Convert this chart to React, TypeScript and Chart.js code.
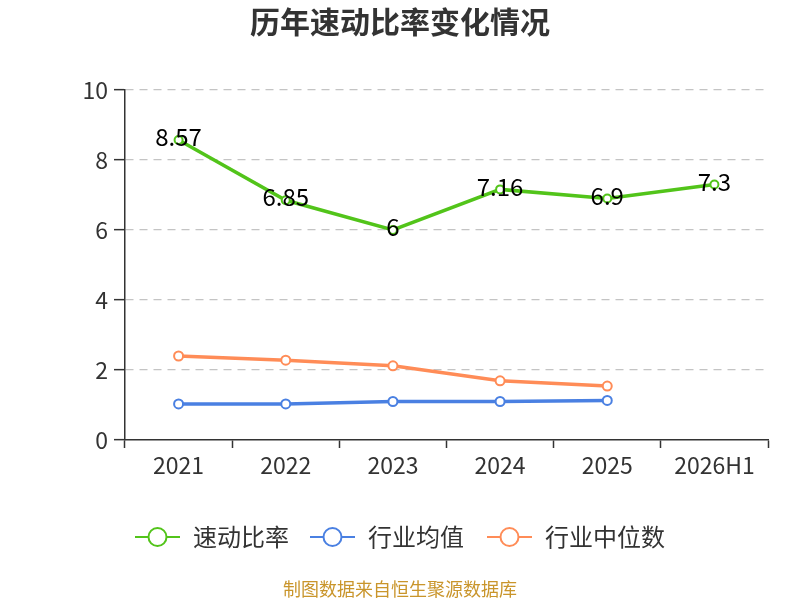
import React, { useEffect, useRef } from "react";
import { Chart, registerables } from "chart.js";

Chart.register(...registerables);

const categories = ["2021", "2022", "2023", "2024", "2025", "2026H1"];
const quickRatio = [8.57, 6.85, 6.0, 7.16, 6.9, 7.3];
const industryAvg = [1.03, 1.03, 1.1, 1.1, 1.13, null];
const industryMedian = [2.4, 2.28, 2.12, 1.69, 1.54, null];
const quickRatioLabels = ["8.57", "6.85", "6", "7.16", "6.9", "7.3"];
const seriesNames = ["速动比率", "行业均值", "行业中位数"];
const yTicks = [0, 2, 4, 6, 8, 10];

const COLORS = ["#52c41a", "#4a80e2", "#ff8c57"];
const FONT = "'Noto Sans CJK SC', 'Noto Sans', sans-serif";

const labelPlugin = {
  id: "valueLabels",
  afterDatasetsDraw(chart: any) {
    const ctx = chart.ctx;
    const meta = chart.getDatasetMeta(0);
    ctx.save();
    ctx.font = `24px ${FONT}`;
    ctx.fillStyle = "#000";
    ctx.textAlign = "center";
    ctx.textBaseline = "middle";
    meta.data.forEach((pt: any, i: number) => {
      ctx.fillText(quickRatioLabels[i], pt.x, pt.y - 3);
    });
    ctx.restore();
  },
};

const legendPlugin = {
  id: "customLegend",
  afterDraw(chart: any) {
    const ctx = chart.ctx;
    ctx.save();
    const cy = 537;
    const starts = [135, 310, 487];
    ctx.font = `24px ${FONT}`;
    ctx.textBaseline = "middle";
    ctx.textAlign = "left";
    seriesNames.forEach((name, i) => {
      const x0 = starts[i];
      ctx.strokeStyle = COLORS[i];
      ctx.lineWidth = 2;
      ctx.beginPath();
      ctx.moveTo(x0, cy);
      ctx.lineTo(x0 + 45, cy);
      ctx.stroke();
      ctx.beginPath();
      ctx.arc(x0 + 22.5, cy, 9, 0, Math.PI * 2);
      ctx.fillStyle = "#fff";
      ctx.fill();
      ctx.lineWidth = 2;
      ctx.stroke();
      ctx.fillStyle = "#333";
      ctx.fillText(name, x0 + 58, cy);
    });
    ctx.font = `18px ${FONT}`;
    ctx.fillStyle = "#c9952b";
    ctx.textAlign = "center";
    ctx.fillText("制图数据来自恒生聚源数据库", 400, 589);
    ctx.font = `bold 30px ${FONT}`;
    ctx.fillStyle = "#333";
    ctx.fillText("历年速动比率变化情况", 400, 22);
    ctx.restore();
  },
};

export default function App() {
  const ref = useRef<HTMLCanvasElement | null>(null);
  useEffect(() => {
    document.body.style.margin = "0";
    if (!ref.current) return;
    const mk = (label: string, data: any[], color: string, r: number) => ({
      label,
      data,
      borderColor: color,
      backgroundColor: "#fff",
      borderWidth: 3.5,
      pointRadius: r,
      pointBorderWidth: 2,
      pointBackgroundColor: "#fff",
      pointBorderColor: color,
      tension: 0,
      spanGaps: false,
    });
    const chart = new Chart(ref.current, {
      type: "line",
      data: {
        labels: categories,
        datasets: [
          mk(seriesNames[0], quickRatio, COLORS[0], 4),
          mk(seriesNames[1], industryAvg, COLORS[1], 4.5),
          mk(seriesNames[2], industryMedian, COLORS[2], 4.5),
        ],
      },
      options: {
        animation: false,
        responsive: false,
        maintainAspectRatio: false,
        layout: { padding: { top: 90, right: 32, left: 0, bottom: 0 } },
        plugins: {
          legend: { display: false },
          title: { display: false },
          tooltip: { enabled: false },
        },
        scales: {
          x: {
            offset: true,
            grid: {
              offset: true,
              drawOnChartArea: false,
              drawTicks: true,
              tickLength: 8,
              tickColor: "#333",
              tickWidth: 1.5,
            },
            border: { display: true, color: "#333", width: 1.5 },
            ticks: {
              color: "#333",
              font: { size: 23, family: FONT },
              padding: 3,
              maxRotation: 0,
              autoSkip: false,
            },
            afterFit(scale: any) {
              scale.height = 160;
            },
          },
          y: {
            min: 0,
            max: 10,
            afterBuildTicks(scale: any) {
              scale.ticks = yTicks.map((v) => ({ value: v }));
            },
            grid: {
              color: (c: any) => (c.tick && c.tick.value === 0 ? "rgba(0,0,0,0)" : "#c4c4c4"),
              lineWidth: 1.3,
              drawTicks: true,
              tickLength: 11,
              tickColor: "#333",
              tickBorderDash: [],
              tickWidth: 1.5,
            },
            border: { display: true, color: "#333", width: 1.5, dash: [8, 6] },
            ticks: {
              color: "#333",
              font: { size: 23, family: FONT },
              padding: 6,
            },
            afterFit(scale: any) {
              scale.width = 125;
            },
          },
        },
      },
      plugins: [labelPlugin, legendPlugin],
    } as any);
    return () => chart.destroy();
  }, []);
  return (
    <div style={{ width: 800, height: 600 }}>
      <canvas ref={ref} width={800} height={600} style={{ width: 800, height: 600 }} />
    </div>
  );
}
